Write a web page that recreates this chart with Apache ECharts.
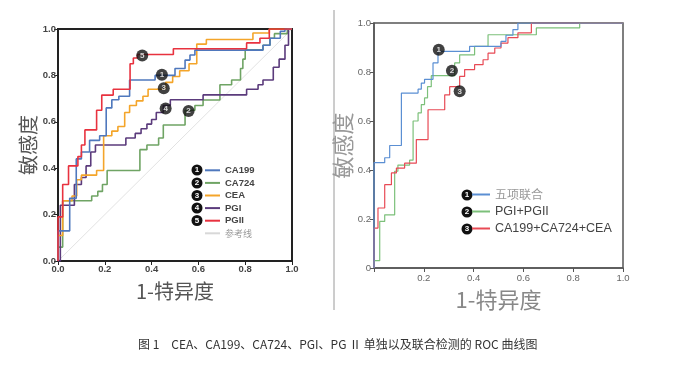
<!DOCTYPE html>
<html><head><meta charset="utf-8">
<script src="https://cdn.jsdelivr.net/npm/echarts@6/dist/echarts.min.js"></script>
<style>html,body{margin:0;padding:0;background:#fff;}#c{width:689px;height:366px;}</style>
</head><body><div id="c"></div>
<script>
// ---- Left panel: single markers (points of ROC curves: [1-specificity, sensitivity]) ----
const ca199 = [[0,0],[0,0.13],[0.05,0.27],[0.078,0.44],[0.1,0.47],[0.135,0.52],[0.178,0.54],[0.206,0.66],[0.23,0.695],[0.26,0.71],[0.306,0.78],[0.415,0.8],[0.5,0.83],[0.543,0.866],[0.564,0.888],[0.585,0.909],[0.876,0.93],[0.906,0.96],[0.95,0.99],[0.97,1],[1,1]];
const ca724 = [[0,0],[0,0.06],[0.02,0.26],[0.144,0.28],[0.17,0.3],[0.19,0.33],[0.21,0.39],[0.35,0.48],[0.38,0.5],[0.43,0.53],[0.45,0.586],[0.543,0.65],[0.585,0.67],[0.62,0.694],[0.692,0.76],[0.742,0.78],[0.78,0.83],[0.79,0.87],[0.8,0.91],[0.876,0.93],[0.906,0.96],[0.925,0.98],[0.98,1],[1,1]];
const cea = [[0,0],[0,0.11],[0.02,0.26],[0.06,0.28],[0.08,0.35],[0.1,0.37],[0.165,0.39],[0.195,0.54],[0.23,0.56],[0.256,0.58],[0.285,0.64],[0.306,0.67],[0.335,0.69],[0.363,0.71],[0.385,0.74],[0.46,0.77],[0.49,0.795],[0.52,0.82],[0.56,0.85],[0.593,0.935],[0.634,0.955],[0.833,0.983],[0.903,1],[1,1]];
const pgi = [[0,0],[0.01,0.24],[0.07,0.33],[0.1,0.36],[0.12,0.41],[0.14,0.47],[0.16,0.5],[0.29,0.53],[0.33,0.55],[0.355,0.57],[0.38,0.59],[0.4,0.61],[0.42,0.64],[0.45,0.67],[0.48,0.695],[0.62,0.716],[0.806,0.74],[0.855,0.76],[0.876,0.78],[0.92,0.835],[0.945,0.87],[0.97,0.93],[0.985,1],[1,1]];
const pgii = [[0,0],[0,0.19],[0.02,0.33],[0.045,0.41],[0.085,0.45],[0.1,0.5],[0.115,0.565],[0.165,0.65],[0.187,0.715],[0.236,0.74],[0.308,0.85],[0.322,0.875],[0.34,0.89],[0.493,0.915],[0.806,0.94],[0.863,0.96],[0.903,1],[1,1]];
const refLine = [[0,0],[1,1]];
const leftNames = ['CA199','CA724','CEA','PGI','PGII'];
const leftTags = ['1','2','3','4','5'];
const leftTagPos = [[0.444,0.803],[0.558,0.647],[0.452,0.745],[0.46,0.657],[0.36,0.886]];

// ---- Right panel: combined detection ----
const fiveCombined = [[0,0],[0,0.43],[0.043,0.45],[0.063,0.5],[0.11,0.714],[0.177,0.73],[0.19,0.755],[0.203,0.77],[0.237,0.837],[0.257,0.884],[0.384,0.905],[0.51,0.925],[0.53,0.95],[0.558,0.973],[0.578,1],[1,1]];
const pgiPgii = [[0,0],[0,0.03],[0.023,0.19],[0.043,0.217],[0.083,0.395],[0.096,0.42],[0.143,0.44],[0.157,0.6],[0.177,0.633],[0.19,0.667],[0.203,0.694],[0.215,0.74],[0.23,0.785],[0.324,0.837],[0.344,0.87],[0.404,0.905],[0.458,0.952],[0.652,0.98],[0.826,1],[1,1]];
const tripleCombined = [[0,0],[0,0.163],[0.016,0.245],[0.043,0.34],[0.07,0.388],[0.09,0.408],[0.123,0.428],[0.17,0.524],[0.217,0.646],[0.284,0.707],[0.304,0.74],[0.344,0.782],[0.364,0.81],[0.404,0.83],[0.438,0.85],[0.458,0.877],[0.485,0.898],[0.51,0.918],[0.538,0.94],[0.578,0.96],[0.632,1],[1,1]];
const rightNames = ['五项联合','PGI+PGII','CA199+CA724+CEA'];
const rightTags = ['1','2','3'];
const rightTagPos = [[0.26,0.891],[0.313,0.805],[0.344,0.721]];

const caption = '图 1　CEA、CA199、CA724、PGI、PG Ⅱ 单独以及联合检测的 ROC 曲线图';

const leftColors = ['#4f78bd','#6fa464','#f4a52a','#5b3b7c','#e8323f'];
const rightColors = ['#5b8fd3','#7cc07a','#e84a55'];

const chart = echarts.init(document.getElementById('c'), null, {renderer:'canvas'});

function tagSeries(pos, tags, xi, yi){
  return {
    type:'scatter', name:'tags'+xi, xAxisIndex:xi, yAxisIndex:yi, z:10,
    symbol:'circle', symbolSize:12, itemStyle:{color:'#111'},
    data: pos.map((p,i)=>({value:p, tag:tags[i]})),
    label:{show:true, position:'inside', formatter:p=>p.data.tag, color:'#fff', fontSize:8, fontWeight:'bold', fontFamily:'Liberation Sans'},
    silent:true
  };
}
function stepSeries(name, data, color, xi, width){
  return {type:'line', name, data, step:'end', showSymbol:false, xAxisIndex:xi, yAxisIndex:xi,
    lineStyle:{color, width}, itemStyle:{color}, z:3};
}

const graphicEls = [
  {type:'line', shape:{x1:334,y1:10,x2:334,y2:310}, style:{stroke:'#9a9a9a', lineWidth:1}},
];
[170,183,195.5,208,220.5].forEach((y,i)=>{
  graphicEls.push({type:'circle', shape:{cx:197,cy:y,r:5.5}, style:{fill:'#111'}});
  graphicEls.push({type:'text', x:197, y:y, style:{text:leftTags[i], fill:'#fff', font:'bold 8px Liberation Sans', align:'center', verticalAlign:'middle'}});
});
[195,212,229].forEach((y,i)=>{
  graphicEls.push({type:'circle', shape:{cx:467,cy:y,r:5.5}, style:{fill:'#111'}});
  graphicEls.push({type:'text', x:467, y:y, style:{text:rightTags[i], fill:'#fff', font:'bold 8px Liberation Sans', align:'center', verticalAlign:'middle'}});
});

const option = {
  animation:false,
  backgroundColor:'#fff',
  title:{text:caption, left:133, top:333, textStyle:{fontSize:12, fontWeight:'normal', color:'#333', fontFamily:'Noto Sans CJK SC'}},
  grid:[
    {left:58, top:29, width:234, height:232, show:true, borderColor:'#222', borderWidth:2},
    {left:374, top:23, width:249, height:245, show:true, borderColor:'#555', borderWidth:1.5}
  ],
  xAxis:[
    {type:'value', gridIndex:0, min:0, max:1, interval:0.2,
     name:'1-特异度', nameLocation:'middle', nameGap:20,
     nameTextStyle:{fontSize:20, color:'#555', fontFamily:'Noto Sans CJK SC'},
     axisLine:{show:true, lineStyle:{color:'#222', width:2}},
     axisTick:{show:true, length:4, lineStyle:{color:'#222'}},
     axisLabel:{margin:3, fontSize:9.5, fontWeight:'bold', color:'#444', fontFamily:'Liberation Sans', formatter:v=>v.toFixed(1)},
     splitLine:{show:false}},
    {type:'value', gridIndex:1, min:0, max:1, interval:0.2,
     name:'1-特异度', nameLocation:'middle', nameGap:21,
     nameTextStyle:{fontSize:22, color:'#888', fontFamily:'Noto Sans CJK SC'},
     axisLine:{show:true, lineStyle:{color:'#555', width:1.5}},
     axisTick:{show:true, length:4, lineStyle:{color:'#555'}},
     axisLabel:{margin:5, fontSize:9.5, color:'#666', fontFamily:'Liberation Sans', formatter:v=>v===0?'':v.toFixed(1)},
     splitLine:{show:false}}
  ],
  yAxis:[
    {type:'value', gridIndex:0, min:0, max:1, interval:0.2,
     name:'敏感度', nameLocation:'middle', nameGap:20, nameRotate:90,
     nameTextStyle:{fontSize:20, color:'#555', fontFamily:'Noto Sans CJK SC'},
     axisLine:{show:true, lineStyle:{color:'#222', width:2}},
     axisTick:{show:true, length:4, lineStyle:{color:'#222'}},
     axisLabel:{margin:2, fontSize:9.5, fontWeight:'bold', color:'#444', fontFamily:'Liberation Sans', formatter:v=>v.toFixed(1)},
     splitLine:{show:false}},
    {type:'value', gridIndex:1, min:0, max:1, interval:0.2,
     name:'敏感度', nameLocation:'middle', nameGap:9, nameRotate:90,
     nameTextStyle:{fontSize:22, color:'#999', fontFamily:'Noto Sans CJK SC'},
     axisLine:{show:true, lineStyle:{color:'#555', width:1.5}},
     axisTick:{show:true, length:4, lineStyle:{color:'#555'}},
     axisLabel:{margin:3, fontSize:9.5, color:'#666', fontFamily:'Liberation Sans', formatter:v=>v===0?'0':v.toFixed(1)},
     splitLine:{show:false}}
  ],
  legend:[
    {orient:'vertical', left:205, top:164, itemWidth:15, itemHeight:2, itemGap:0, icon:'rect', padding:0,
     textStyle:{fontSize:9.5, fontWeight:'bold', color:'#444', fontFamily:'Liberation Sans', lineHeight:12.6},
     data:leftNames.concat([{name:'参考线', textStyle:{color:'#999', fontWeight:'normal', fontFamily:'Noto Sans CJK SC', fontSize:9}}])},
    {orient:'vertical', left:472, top:186, itemWidth:18, itemHeight:2, itemGap:0, icon:'rect', padding:0,
     textStyle:{fontSize:12.5, color:'#444', fontFamily:'Liberation Sans', lineHeight:17},
     data:[{name:rightNames[0], textStyle:{color:'#999', fontFamily:'Noto Sans CJK SC', fontSize:12}}, rightNames[1], rightNames[2]]}
  ],
  graphic:graphicEls,
  series:[
    {type:'line', name:'参考线', data:refLine, showSymbol:false, xAxisIndex:0, yAxisIndex:0, lineStyle:{color:'#e2e2e2', width:1}, itemStyle:{color:'#d8d8d8'}, z:1},
    stepSeries(leftNames[1], ca724, leftColors[1], 0, 1.6),
    stepSeries(leftNames[3], pgi, leftColors[3], 0, 1.6),
    stepSeries(leftNames[2], cea, leftColors[2], 0, 1.6),
    stepSeries(leftNames[0], ca199, leftColors[0], 0, 1.6),
    stepSeries(leftNames[4], pgii, leftColors[4], 0, 1.6),
    stepSeries(rightNames[1], pgiPgii, rightColors[1], 1, 1.2),
    stepSeries(rightNames[2], tripleCombined, rightColors[2], 1, 1.2),
    stepSeries(rightNames[0], fiveCombined, rightColors[0], 1, 1.2),
    tagSeries(leftTagPos, leftTags, 0, 0),
    tagSeries(rightTagPos, rightTags, 1, 1)
  ]
};
chart.setOption(option);
</script>
</body></html>
